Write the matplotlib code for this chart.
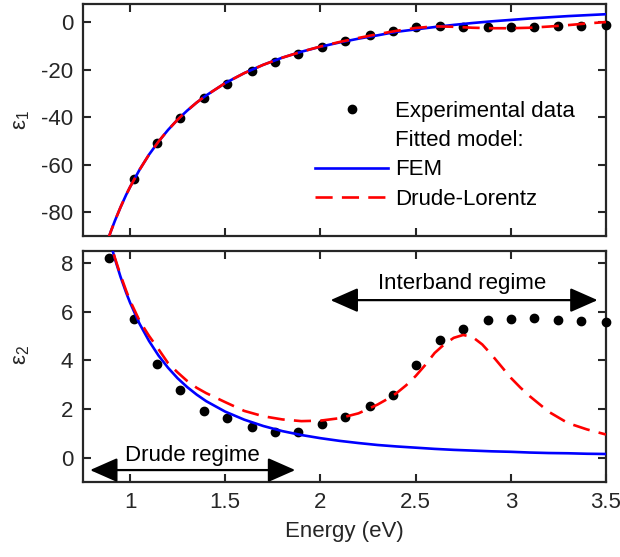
import numpy as np
import matplotlib
matplotlib.use("Agg")
import matplotlib.pyplot as plt
from matplotlib.lines import Line2D

plt.rcParams['font.family'] = ['Liberation Sans', 'DejaVu Sans']
plt.rcParams['mathtext.fontset'] = 'custom'
plt.rcParams['mathtext.rm'] = 'Liberation Sans'
plt.rcParams['mathtext.it'] = 'Liberation Sans'
plt.rcParams['font.size'] = 16
plt.rcParams['axes.unicode_minus'] = False

# ---------------- data ----------------
energy_exp = [0.89, 1.02, 1.14, 1.26, 1.39, 1.51, 1.64, 1.76, 1.88, 2.01, 2.13,
              2.26, 2.38, 2.50, 2.63, 2.75, 2.88, 3.00, 3.12, 3.25, 3.37, 3.50]
eps1_exp = [-94.0, -66.1, -50.9, -40.1, -31.8, -25.8, -20.6, -16.8, -13.5, -10.6, -8.0,
            -5.5, -3.7, -2.0, -1.7, -2.1, -1.9, -2.1, -1.9, -1.7, -1.6, -1.0]
eps2_exp = [8.18, 5.69, 3.86, 2.78, 1.92, 1.61, 1.25, 1.05, 1.05, 1.37, 1.66,
            2.11, 2.59, 3.82, 4.84, 5.28, 5.64, 5.71, 5.74, 5.64, 5.62, 5.59]

energy_fit = [0.88, 0.90, 0.92, 0.95, 0.98, 1.00, 1.05, 1.10, 1.15, 1.20, 1.25, 1.30,
              1.35, 1.40, 1.50, 1.60, 1.70, 1.80, 1.90, 2.00, 2.10, 2.20, 2.30, 2.40,
              2.50, 2.60, 2.70, 2.80, 2.90, 3.00, 3.10, 3.20, 3.30, 3.40, 3.50]
eps1_fem = [-92.4, -87.9, -83.7, -77.9, -72.6, -69.4, -62.1, -55.7, -50.2, -45.3, -41.0, -37.2,
            -33.8, -30.8, -25.6, -21.4, -17.9, -14.9, -12.4, -10.3, -8.5, -6.9, -5.5, -4.0,
            -3.0, -2.0, -1.1, -0.3, 0.4, 1.0, 1.6, 2.1, 2.6, 3.0, 3.4]
eps1_dl = [-92.4, -87.9, -83.7, -77.9, -72.6, -69.4, -62.1, -55.7, -50.2, -45.3, -41.0, -37.2,
           -33.8, -30.8, -25.6, -21.4, -17.9, -14.9, -12.4, -10.2, -8.3, -6.6, -5.0, -3.6,
           -2.4, -1.7, -1.9, -2.3, -2.5, -2.5, -2.3, -1.8, -1.2, -0.5, 0.1]
eps2_fem = [9.35, 8.74, 8.18, 7.43, 6.77, 6.37, 5.50, 4.79, 4.19, 3.69, 3.26, 2.90,
            2.59, 2.32, 1.89, 1.56, 1.30, 1.09, 0.93, 0.80, 0.69, 0.60, 0.52, 0.46,
            0.41, 0.36, 0.32, 0.29, 0.26, 0.24, 0.21, 0.19, 0.18, 0.16, 0.15]

energy_dl2 = [0.88, 0.90, 0.92, 0.95, 0.98, 1.00, 1.05, 1.10, 1.15, 1.20, 1.25, 1.30,
              1.35, 1.40, 1.50, 1.60, 1.70, 1.80, 1.90, 2.00, 2.10, 2.20, 2.30, 2.35,
              2.40, 2.45, 2.50, 2.55, 2.60, 2.65, 2.70, 2.75, 2.80, 2.85, 2.90, 2.95,
              3.00, 3.05, 3.10, 3.20, 3.30, 3.40, 3.50]
eps2_dl = [9.40, 8.75, 8.22, 7.50, 6.85, 6.45, 5.62, 5.00, 4.45, 3.88, 3.50, 3.15,
           2.87, 2.65, 2.28, 1.92, 1.70, 1.57, 1.50, 1.52, 1.62, 1.82, 2.18, 2.40,
           2.65, 2.97, 3.35, 3.80, 4.30, 4.65, 4.92, 5.04, 4.95, 4.65, 4.22, 3.75,
           3.28, 2.88, 2.52, 1.88, 1.42, 1.16, 0.95]

x_ticks = [1, 1.5, 2, 2.5, 3, 3.5]
x_tick_labels = ['1', '1.5', '2', '2.5', '3', '3.5']
y1_ticks = [-80, -60, -40, -20, 0]
y2_ticks = [0, 2, 4, 6, 8]

legend_labels = ['Experimental data', 'Fitted model:', 'FEM', 'Drude-Lorentz']

# ---------------- styling ----------------
AX_COL = '#262626'
LW = 1.9
W, H = 620, 557
fig = plt.figure(figsize=(W / 100, H / 100), dpi=100)

left, right = 83 / W, 606 / W
ax1 = fig.add_axes([left, 1 - 236 / H, right - left, (236 - 4) / H])
ax2 = fig.add_axes([left, 1 - 482 / H, right - left, (482 - 250.7) / H])

dash = (6.5, 3.5)
for ax in (ax1, ax2):
    ax.set_xlim(0.753, 3.5)
    ax.set_xticks(x_ticks)
    ax.tick_params(direction='in', length=6, width=1.5, top=True, right=True,
                   colors=AX_COL, labelsize=16, pad=7)
    for sp in ax.spines.values():
        sp.set_linewidth(1.6)
        sp.set_color(AX_COL)

# top panel
E = np.array(energy_exp)
e1 = np.array(eps1_exp)
ylim1 = (-90, 7.7)
m = e1 >= ylim1[0]
ax1.plot(E[m], e1[m], 'o', color='black', ms=6, clip_on=False, zorder=3)
ax1.plot(energy_fit, eps1_fem, '-', color='blue', lw=LW, zorder=4)
ax1.plot(energy_fit, eps1_dl, '--', color='red', lw=LW, dashes=dash, zorder=5)
ax1.set_ylim(*ylim1)
ax1.set_yticks(y1_ticks)
ax1.set_xticklabels([])
ax1.set_ylabel('ε$_1$', color=AX_COL, fontsize=16)
ax1.yaxis.set_label_coords(-0.098, 0.5)

# bottom panel
ax2.plot(energy_exp, eps2_exp, 'o', color='black', ms=6, clip_on=False, zorder=3)
ax2.plot(energy_fit, eps2_fem, '-', color='blue', lw=LW, zorder=4)
ax2.plot(energy_dl2, eps2_dl, '--', color='red', lw=LW, dashes=dash, zorder=5)
ax2.set_ylim(-1, 8.5)
ax2.set_yticks(y2_ticks)
ax2.set_xticklabels(x_tick_labels)
ax2.set_ylabel('ε$_2$', color=AX_COL, fontsize=16)
ax2.yaxis.set_label_coords(-0.098, 0.55)
ax2.set_xlabel('Energy (eV)', color=AX_COL, fontsize=16, labelpad=6)

# annotations
astyle = '<|-|>,head_length=1.7,head_width=0.75'
ax2.annotate('', xy=(3.456, 6.47), xytext=(2.053, 6.47),
             arrowprops=dict(arrowstyle=astyle, mutation_scale=10, lw=1.6,
                             color='black', shrinkA=0, shrinkB=0))
ax2.text(2.745, 7.16, 'Interband regime', ha='center', va='center', fontsize=16)
ax2.annotate('', xy=(1.868, -0.51), xytext=(0.79, -0.51),
             arrowprops=dict(arrowstyle=astyle, mutation_scale=10, lw=1.6,
                             color='black', shrinkA=0, shrinkB=0))
ax2.text(1.325, 0.09, 'Drude regime', ha='center', va='center', fontsize=16)

# legend
handles = [
    Line2D([], [], ls='none', marker='o', color='black', ms=6),
    Line2D([], [], ls='none', marker=None),
    Line2D([], [], ls='-', color='blue', lw=LW),
    Line2D([], [], ls='--', color='red', lw=LW, dashes=dash),
]
fig.legend(handles, legend_labels, loc='upper left',
           bbox_to_anchor=(315 / W, 1 - 101 / H), bbox_transform=fig.transFigure,
           frameon=False, fontsize=16, handlelength=3.3, handletextpad=0.3,
           labelspacing=0.37, borderpad=0, borderaxespad=0)

fig.savefig('out.png', dpi=100)
